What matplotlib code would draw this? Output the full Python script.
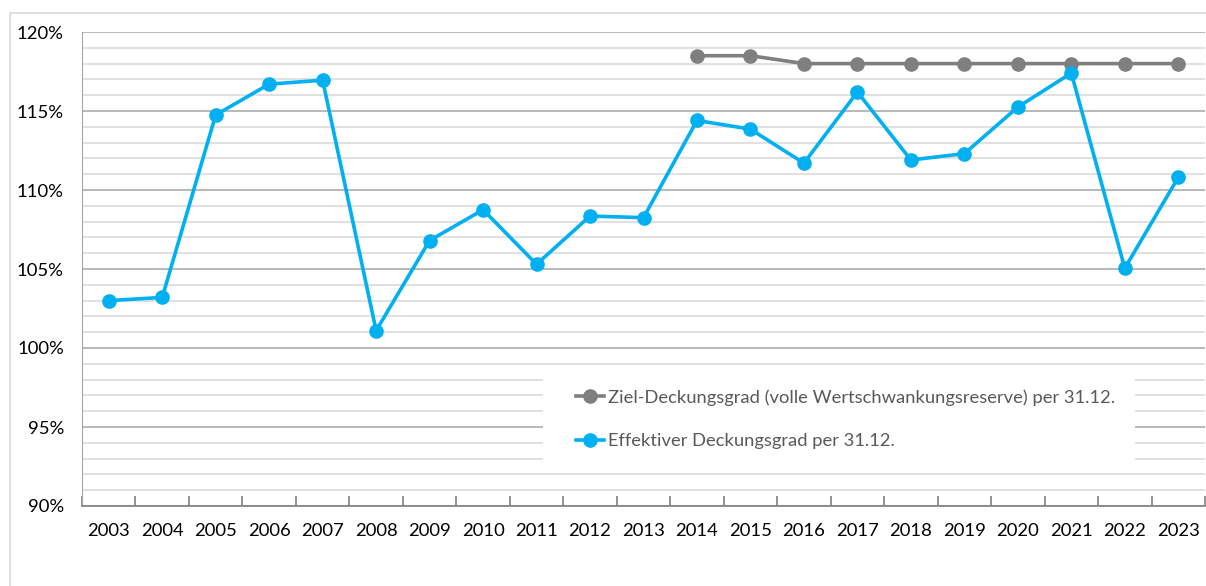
import numpy as np
import matplotlib.pyplot as plt
from matplotlib.patches import Rectangle
from matplotlib.ticker import FuncFormatter, MultipleLocator

### data
years = [str(y) for y in range(2003, 2024)]
effektiv = [103.0, 103.2, 114.75, 116.7, 116.95, 101.1, 106.8, 108.75, 105.3, 108.35,
            108.25, 114.4, 113.85, 111.7, 116.2, 111.9, 112.3, 115.25, 117.4, 105.05, 110.8]
ziel_years = years[11:]
ziel = [118.5, 118.5, 118.0, 118.0, 118.0, 118.0, 118.0, 118.0, 118.0, 118.0]

label_ziel = "Ziel-Deckungsgrad (volle Wertschwankungsreserve) per 31.12."
label_eff = "Effektiver Deckungsgrad per 31.12."

blue = "#00B0F0"
gray = "#7F7F7F"

plt.rcParams['font.family'] = ['Lato', 'DejaVu Sans']

fig = plt.figure(figsize=(12.06, 5.86), dpi=100)
# outer chart border (cut off at right/bottom in the reference)
fig.patches.append(Rectangle((10/1206, -0.1), 1.2, 1 - 13/586 + 0.1, transform=fig.transFigure,
                             fill=False, edgecolor="#D9D9D9", lw=1.2))
ax = fig.add_axes([82/1206, 1 - 506/586, 1123/1206, 474/586])

x = np.arange(len(years))
xz = np.array([years.index(y) for y in ziel_years])

ax.plot(xz, ziel, color=gray, lw=2.6, marker="o", ms=9.5, label=label_ziel, zorder=4)
ax.plot(x, effektiv, color=blue, lw=2.6, marker="o", ms=9.5, label=label_eff, zorder=5)

ax.set_xlim(-0.5, len(years) - 0.5)
ax.set_ylim(90, 120)
ax.set_xticks(x)
ax.set_xticklabels(years)
ax.set_xticks(np.arange(-0.5, len(years)), minor=True)
ax.tick_params(axis="x", which="major", length=0, pad=12, labelsize=13.3, labelcolor="#000000")
ax.tick_params(axis="x", which="minor", length=7, direction="in", color="#7F7F7F", width=1.2)

ax.yaxis.set_major_locator(MultipleLocator(5))
ax.yaxis.set_minor_locator(MultipleLocator(1))
ax.yaxis.set_major_formatter(FuncFormatter(lambda v, p: "%d%%" % v))
ax.tick_params(axis="y", which="both", length=0, pad=13, labelsize=13.3, labelcolor="#000000")

ax.grid(axis="y", which="minor", color="#D9D9D9", lw=1.1, zorder=0)
ax.grid(axis="y", which="major", color="#A6A6A6", lw=1.1, zorder=0)
ax.set_axisbelow(True)

for s in ["top", "right"]:
    ax.spines[s].set_visible(False)
ax.spines["left"].set_color("#A6A6A6")
ax.spines["bottom"].set_color("#7F7F7F")
ax.spines["bottom"].set_linewidth(1.2)

# white legend area
ax.add_patch(Rectangle((461/1123, 44/474), 592/1123, 96/474, transform=ax.transAxes,
                       facecolor="white", edgecolor="none", zorder=2))
leg = ax.legend(loc="upper left", bbox_to_anchor=(494/1123, 117/474), frameon=False,
                handlelength=1.5, handletextpad=0.25, labelspacing=1.5, fontsize=13.2,
                borderaxespad=0, borderpad=0)
for t in leg.get_texts():
    t.set_color("#595959")
leg.set_zorder(6)

fig.savefig("out.png", dpi=100)
